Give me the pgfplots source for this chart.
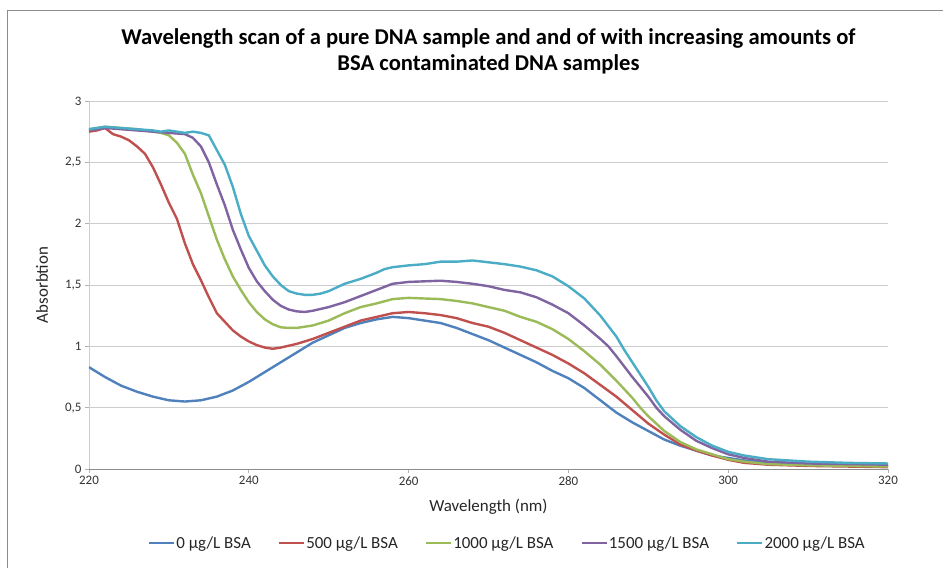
\documentclass[border=0pt]{standalone}
\usepackage{pgfplots}
\pgfplotsset{compat=1.18}
\usepackage{fontspec}
\setmainfont{Carlito}

\definecolor{xlblue}{RGB}{79,129,189}
\definecolor{xlred}{RGB}{192,80,77}
\definecolor{xlgreen}{RGB}{155,187,89}
\definecolor{xlpurple}{RGB}{128,100,162}
\definecolor{xlcyan}{RGB}{75,172,198}

\begin{document}
\begin{tikzpicture}
\begin{axis}[
    scale only axis,
    width=799bp, height=368bp,
    xmin=220, xmax=320, ymin=0, ymax=3,
    xtick={220,240,...,320},
    ytick={0,0.5,...,3},
    axis x line*=bottom, axis y line*=left,
    x axis line style={draw=black!45, line width=0.8bp, -},
    y axis line style={draw=black!20, line width=0.8bp, -},
    ymajorgrids,
    major grid style={draw=black!20, line width=0.8bp},
    tick align=outside, major tick length=4bp,
    tick style={draw=black!30, line width=0.8bp},
    /pgf/number format/use comma,
    /pgf/number format/assume math mode=true,
    tick label style={font=\fontsize{13}{15}\selectfont, text=black!80},
    xlabel={Wavelength (nm)},
    ylabel={Absorbtion},
    label style={font=\fontsize{17}{20}\selectfont, text=black!85},
    xlabel style={at={(axis description cs:0.5,-0.1033)}, anchor=center},
    ylabel style={at={(axis description cs:-0.0588,0.5)}, anchor=center, rotate=0},
    title={Wavelength scan of a pure DNA sample and and of with increasing amounts of\\BSA contaminated DNA samples},
    title style={at={(axis description cs:0.5,1.119)}, anchor=center, align=center,
        font=\bfseries\fontsize{22.7}{25.5}\selectfont},
    legend columns=5,
    legend style={at={(axis description cs:0.523,-0.201)}, anchor=center, draw=none,
        font=\fontsize{17}{20}\selectfont, text=black!85,
        /tikz/every even column/.append style={column sep=26bp},
        nodes={inner sep=1bp}},
    legend image code/.code={\draw[#1, line width=2.4bp] (0bp,0bp) -- (25bp,0bp);},
    every axis plot/.append style={line width=2.4bp, line join=round},
]
% 0 ug/L BSA
\addplot[xlblue] coordinates {
(220,0.83) (222,0.75) (224,0.68) (226,0.63) (228,0.59) (230,0.56) (232,0.55)
(234,0.56) (236,0.59) (238,0.64) (240,0.71) (242,0.79) (244,0.87) (246,0.95)
(248,1.03) (250,1.09) (252,1.15) (254,1.19) (256,1.22) (258,1.24) (260,1.23)
(262,1.21) (264,1.19) (266,1.15) (268,1.10) (270,1.05) (272,0.99) (274,0.93)
(276,0.87) (278,0.80) (280,0.74) (282,0.66) (284,0.56) (286,0.46) (288,0.38)
(290,0.31) (292,0.24) (294,0.19) (296,0.15) (298,0.11) (300,0.09) (302,0.07)
(305,0.05) (310,0.035) (315,0.03) (320,0.025)
};
% 500 ug/L BSA
\addplot[xlred] coordinates {
(220,2.75) (221,2.76) (222,2.78) (223,2.73) (224,2.71) (225,2.68) (226,2.63)
(227,2.57) (228,2.46) (229,2.32) (230,2.17) (231,2.04) (232,1.84) (233,1.67)
(234,1.54) (235,1.40) (236,1.27) (237,1.20) (238,1.13) (239,1.08) (240,1.04)
(241,1.01) (242,0.99) (243,0.98) (244,0.99) (246,1.02) (248,1.06) (250,1.11)
(252,1.16) (254,1.21) (256,1.24) (258,1.27) (260,1.28) (262,1.27) (264,1.255)
(266,1.23) (268,1.19) (270,1.16) (272,1.11) (274,1.05) (276,0.99) (278,0.93)
(280,0.86) (282,0.78) (284,0.685) (286,0.59) (288,0.48) (290,0.37) (292,0.28)
(294,0.20) (296,0.15) (298,0.11) (300,0.075) (302,0.05) (305,0.035) (310,0.025)
(315,0.02) (320,0.015)
};
% 1000 ug/L BSA
\addplot[xlgreen] coordinates {
(220,2.77) (222,2.79) (224,2.78) (226,2.77) (228,2.75) (229,2.74) (230,2.72)
(231,2.66) (232,2.57) (233,2.40) (234,2.25) (235,2.06) (236,1.87) (237,1.71)
(238,1.57) (239,1.46) (240,1.36) (241,1.28) (242,1.22) (243,1.18) (244,1.155)
(245,1.15) (246,1.15) (247,1.16) (248,1.17) (250,1.21) (252,1.27) (254,1.32)
(256,1.35) (258,1.385) (260,1.395) (262,1.39) (264,1.385) (266,1.37) (268,1.35)
(270,1.32) (272,1.29) (274,1.24) (276,1.20) (278,1.14) (280,1.06) (282,0.96)
(284,0.85) (286,0.72) (288,0.58) (289,0.50) (290,0.43) (292,0.31) (294,0.22)
(296,0.16) (298,0.12) (300,0.08) (302,0.06) (305,0.04) (310,0.03) (315,0.025)
(320,0.02)
};
% 1500 ug/L BSA
\addplot[xlpurple] coordinates {
(220,2.76) (222,2.78) (224,2.77) (226,2.76) (228,2.75) (230,2.74) (232,2.73)
(233,2.70) (234,2.63) (235,2.50) (236,2.32) (237,2.15) (238,1.95) (239,1.79)
(240,1.64) (241,1.53) (242,1.45) (243,1.38) (244,1.33) (245,1.30) (246,1.285)
(247,1.28) (248,1.29) (250,1.32) (252,1.36) (254,1.41) (256,1.46) (258,1.51)
(260,1.525) (262,1.53) (264,1.535) (266,1.525) (268,1.51) (270,1.49) (272,1.46)
(274,1.44) (276,1.40) (278,1.34) (280,1.27) (282,1.17) (284,1.06) (285,1.00)
(286,0.92) (288,0.75) (290,0.59) (291,0.50) (292,0.43) (294,0.32) (296,0.23)
(298,0.17) (300,0.12) (302,0.09) (305,0.06) (310,0.045) (315,0.04) (320,0.035)
};
% 2000 ug/L BSA
\addplot[xlcyan] coordinates {
(220,2.77) (222,2.79) (224,2.78) (226,2.77) (228,2.76) (229,2.75) (230,2.76)
(231,2.75) (232,2.74) (233,2.75) (234,2.74) (235,2.72) (236,2.60) (237,2.48)
(238,2.30) (239,2.08) (240,1.90) (241,1.78) (242,1.66) (243,1.57) (244,1.50)
(245,1.45) (246,1.43) (247,1.42) (248,1.42) (249,1.43) (250,1.45) (252,1.51)
(254,1.55) (256,1.60) (257,1.63) (258,1.645) (260,1.66) (262,1.67) (264,1.69)
(266,1.69) (268,1.70) (270,1.685) (272,1.67) (274,1.65) (276,1.62) (278,1.57)
(280,1.49) (282,1.39) (284,1.25) (286,1.08) (287,0.97) (288,0.87) (290,0.67)
(291,0.56) (292,0.47) (294,0.35) (296,0.26) (298,0.19) (300,0.14) (302,0.11)
(305,0.08) (310,0.06) (315,0.05) (320,0.045)
};
\legend{0 µg/L BSA, 500 µg/L BSA, 1000 µg/L BSA, 1500 µg/L BSA, 2000 µg/L BSA}
\end{axis}
\draw[black!45, line width=1bp] (-81bp,-99bp) -- (-81bp,458bp) -- (854bp,458bp);
\pgfresetboundingbox
\path[use as bounding box] (-89bp,-99bp) rectangle (854bp,469bp);
\end{tikzpicture}
\end{document}
